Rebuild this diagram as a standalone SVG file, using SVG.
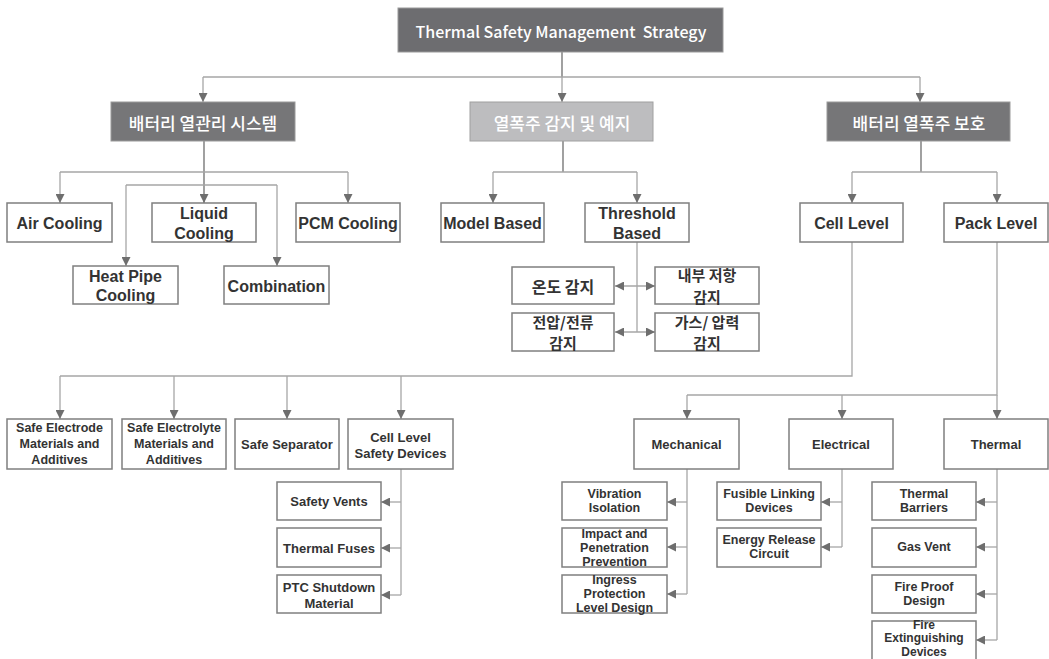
<svg xmlns="http://www.w3.org/2000/svg" width="1049" height="659" viewBox="0 0 1049 659">
<style>
.b{fill:#fff;stroke:#7f7f7f;stroke-width:1.5}
.t{font-family:"Liberation Sans","Noto Sans CJK KR",sans-serif;font-weight:bold;fill:#333;text-anchor:middle;dominant-baseline:central}
.k{font-family:"Noto Sans CJK KR",sans-serif}
.l3{font-size:16px}
.l4{font-size:13px}
.l5{font-size:12.5px}
.w{font-family:"Noto Sans CJK KR","Noto Sans",sans-serif;fill:#fff;text-anchor:middle;dominant-baseline:central;font-size:17px;font-weight:500}
.c{fill:none;stroke:#a6a6a6;stroke-width:1.3}
.d{fill:none;stroke:#6e6e6e;stroke-width:1.3}
</style>
<defs>
<marker id="a" viewBox="0 0 10 10" refX="10" refY="5" markerWidth="9" markerHeight="9" markerUnits="userSpaceOnUse" orient="auto-start-reverse">
<path d="M0,0 L10,5 L0,10 z" fill="#6e6e6e"/>
</marker>
</defs>
<g id="connectors">
<path class="d" d="M562,52 V77"/>
<path class="c" d="M203,77 H920"/>
<path class="c" d="M203,77 V102" marker-end="url(#a)"/>
<path class="c" d="M562,77 V102" marker-end="url(#a)"/>
<path class="c" d="M920,77 V102" marker-end="url(#a)"/>
<path class="d" d="M204,141 V203" marker-end="url(#a)"/>
<path class="c" d="M60,172 H348"/>
<path class="c" d="M60,172 V203" marker-end="url(#a)"/>
<path class="c" d="M348,172 V203" marker-end="url(#a)"/>
<path class="c" d="M126,185 H277"/>
<path class="c" d="M126,185 V266" marker-end="url(#a)"/>
<path class="c" d="M277,185 V266" marker-end="url(#a)"/>
<path class="d" d="M563,141 V172"/>
<path class="c" d="M493,172 H637"/>
<path class="c" d="M493,172 V203" marker-end="url(#a)"/>
<path class="c" d="M637,172 V203" marker-end="url(#a)"/>
<path class="c" d="M637,242 V332"/>
<path class="c" d="M615,286 H655" marker-start="url(#a)" marker-end="url(#a)"/>
<path class="c" d="M615,332 H655" marker-start="url(#a)" marker-end="url(#a)"/>
<path class="d" d="M921,141 V172"/>
<path class="c" d="M852,172 H997"/>
<path class="c" d="M852,172 V203" marker-end="url(#a)"/>
<path class="c" d="M997,172 V203" marker-end="url(#a)"/>
<path class="c" d="M852,242 V376 H60"/>
<path class="c" d="M60,376 V419" marker-end="url(#a)"/>
<path class="c" d="M174,376 V419" marker-end="url(#a)"/>
<path class="c" d="M287,376 V419" marker-end="url(#a)"/>
<path class="c" d="M401,376 V419" marker-end="url(#a)"/>
<path class="c" d="M997,242 V395 H687"/>
<path class="c" d="M687,395 V419" marker-end="url(#a)"/>
<path class="c" d="M842,395 V419" marker-end="url(#a)"/>
<path class="c" d="M997,395 V419" marker-end="url(#a)"/>
<path class="c" d="M401,469 V595"/>
<path class="c" d="M401,502 H381" marker-end="url(#a)"/>
<path class="c" d="M401,548 H381" marker-end="url(#a)"/>
<path class="c" d="M401,595 H381" marker-end="url(#a)"/>
<path class="c" d="M687,469 V594"/>
<path class="c" d="M687,502 H667" marker-end="url(#a)"/>
<path class="c" d="M687,547 H667" marker-end="url(#a)"/>
<path class="c" d="M687,594 H667" marker-end="url(#a)"/>
<path class="c" d="M842,469 V547"/>
<path class="c" d="M842,502 H821" marker-end="url(#a)"/>
<path class="c" d="M842,547 H821" marker-end="url(#a)"/>
<path class="c" d="M997,469 V640"/>
<path class="c" d="M997,502 H976" marker-end="url(#a)"/>
<path class="c" d="M997,547 H976" marker-end="url(#a)"/>
<path class="c" d="M997,594 H976" marker-end="url(#a)"/>
<path class="c" d="M997,640 H976" marker-end="url(#a)"/>
</g>
<g id="root"><rect x="398" y="8" width="325" height="44" fill="#6d6d70" stroke="#9a9a9a" stroke-width="1"/><text class="w" x="561" y="31" style="font-size:16px" xml:space="preserve">Thermal Safety Management  Strategy</text></g>
<g id="btms"><rect x="111" y="102" width="184" height="39" fill="#767678" stroke="#9a9a9a" stroke-width="1"/><text class="w" x="203" y="122">배터리 열관리 시스템</text></g>
<g id="detect"><rect x="470" y="102" width="183" height="39" fill="#bdbdbf" stroke="#a0a0a0" stroke-width="1"/><text class="w" x="562" y="122">열폭주 감지 및 예지</text></g>
<g id="protect"><rect x="827" y="102" width="183" height="39" fill="#767678" stroke="#9a9a9a" stroke-width="1"/><text class="w" x="919" y="122">배터리 열폭주 보호</text></g>
<g id="air"><rect class="b" x="7" y="203" width="105" height="39"/><text class="t l3" x="59.5" y="223">Air Cooling</text></g>
<g id="liquid"><rect class="b" x="152" y="203" width="104" height="39"/><text class="t l3" x="204" y="213">Liquid</text><text class="t l3" x="204" y="233">Cooling</text></g>
<g id="pcm"><rect class="b" x="296" y="203" width="104" height="39"/><text class="t l3" x="348" y="223">PCM Cooling</text></g>
<g id="heatpipe"><rect class="b" x="73" y="266" width="105" height="38"/><text class="t l3" x="125.5" y="276">Heat Pipe</text><text class="t l3" x="125.5" y="295">Cooling</text></g>
<g id="combination"><rect class="b" x="224" y="266" width="105" height="38"/><text class="t l3" x="276.5" y="286">Combination</text></g>
<g id="model"><rect class="b" x="441" y="203" width="103" height="39"/><text class="t l3" x="492.5" y="223">Model Based</text></g>
<g id="threshold"><rect class="b" x="585" y="203" width="104" height="39"/><text class="t l3" x="637" y="213">Threshold</text><text class="t l3" x="637" y="233">Based</text></g>
<g id="temp"><rect class="b" x="512" y="267" width="102" height="37"/><text class="t k l3" x="563" y="286">온도 감지</text></g>
<g id="resist"><rect class="b" x="655" y="267" width="104" height="37"/><text class="t k" style="font-size:15px" x="707" y="274.6">내부 저항</text><text class="t k" style="font-size:15px" x="707" y="296.4">감지</text></g>
<g id="volt"><rect class="b" x="512" y="313" width="102" height="38"/><text class="t k" style="font-size:15px" x="563" y="321.1">전압/전류</text><text class="t k" style="font-size:15px" x="563" y="342.9">감지</text></g>
<g id="gas"><rect class="b" x="655" y="313" width="104" height="38"/><text class="t k" style="font-size:15px" x="707" y="321.1">가스/ 압력</text><text class="t k" style="font-size:15px" x="707" y="342.9">감지</text></g>
<g id="cell"><rect class="b" x="800" y="203" width="103" height="39"/><text class="t l3" x="851.5" y="223">Cell Level</text></g>
<g id="pack"><rect class="b" x="944" y="203" width="104" height="39"/><text class="t l3" x="996" y="223">Pack Level</text></g>
<g id="electrode"><rect class="b" x="7" y="419" width="105" height="50"/><text class="t l5" x="59.5" y="428">Safe Electrode</text><text class="t l5" x="59.5" y="444">Materials and</text><text class="t l5" x="59.5" y="460">Additives</text></g>
<g id="electrolyte"><rect class="b" x="122" y="419" width="104" height="50"/><text class="t l5" x="174" y="428">Safe Electrolyte</text><text class="t l5" x="174" y="444">Materials and</text><text class="t l5" x="174" y="460">Additives</text></g>
<g id="separator"><rect class="b" x="235" y="419" width="104" height="50"/><text class="t l4" x="287" y="444">Safe Separator</text></g>
<g id="celldev"><rect class="b" x="348" y="419" width="105" height="50"/><text class="t l4" x="400.5" y="437">Cell Level</text><text class="t l4" x="400.5" y="453">Safety Devices</text></g>
<g id="vents"><rect class="b" x="277" y="482" width="104" height="38"/><text class="t l4" x="329" y="501">Safety Vents</text></g>
<g id="fuses"><rect class="b" x="277" y="528" width="104" height="39"/><text class="t l4" x="329" y="548">Thermal Fuses</text></g>
<g id="ptc"><rect class="b" x="277" y="575" width="104" height="38"/><text class="t l4" x="329" y="587">PTC Shutdown</text><text class="t l4" x="329" y="603">Material</text></g>
<g id="mechanical"><rect class="b" x="634" y="419" width="105" height="50"/><text class="t l4" x="686.5" y="444">Mechanical</text></g>
<g id="electrical"><rect class="b" x="789" y="419" width="104" height="50"/><text class="t l4" x="841" y="444">Electrical</text></g>
<g id="thermal"><rect class="b" x="944" y="419" width="104" height="50"/><text class="t l4" x="996" y="444">Thermal</text></g>
<g id="vibration"><rect class="b" x="562" y="482" width="105" height="38"/><text class="t l5" x="614.5" y="494">Vibration</text><text class="t l5" x="614.5" y="508">Isolation</text></g>
<g id="impact"><rect class="b" x="562" y="528" width="105" height="39"/><text class="t l5" x="614.5" y="533.5">Impact and</text><text class="t l5" x="614.5" y="547.5">Penetration</text><text class="t l5" x="614.5" y="561.5">Prevention</text></g>
<g id="ingress"><rect class="b" x="562" y="575" width="105" height="38"/><text class="t l5" x="614.5" y="580">Ingress</text><text class="t l5" x="614.5" y="594">Protection</text><text class="t l5" x="614.5" y="608">Level Design</text></g>
<g id="fusible"><rect class="b" x="717" y="482" width="104" height="38"/><text class="t l5" x="769" y="494">Fusible Linking</text><text class="t l5" x="769" y="508">Devices</text></g>
<g id="energy"><rect class="b" x="717" y="528" width="104" height="39"/><text class="t l5" x="769" y="540">Energy Release</text><text class="t l5" x="769" y="554">Circuit</text></g>
<g id="barriers"><rect class="b" x="872" y="482" width="104" height="38"/><text class="t l5" x="924" y="494">Thermal</text><text class="t l5" x="924" y="508">Barriers</text></g>
<g id="gasvent"><rect class="b" x="872" y="528" width="104" height="39"/><text class="t l5" x="924" y="547">Gas Vent</text></g>
<g id="fireproof"><rect class="b" x="872" y="575" width="104" height="38"/><text class="t l5" x="924" y="587">Fire Proof</text><text class="t l5" x="924" y="601">Design</text></g>
<g id="extinguish"><rect class="b" x="872" y="621" width="104" height="45"/><text class="t" style="font-size:12px" x="924" y="624.5">Fire</text><text class="t" style="font-size:12px" x="924" y="638">Extinguishing</text><text class="t" style="font-size:12px" x="924" y="651.5">Devices</text></g>
</svg>
